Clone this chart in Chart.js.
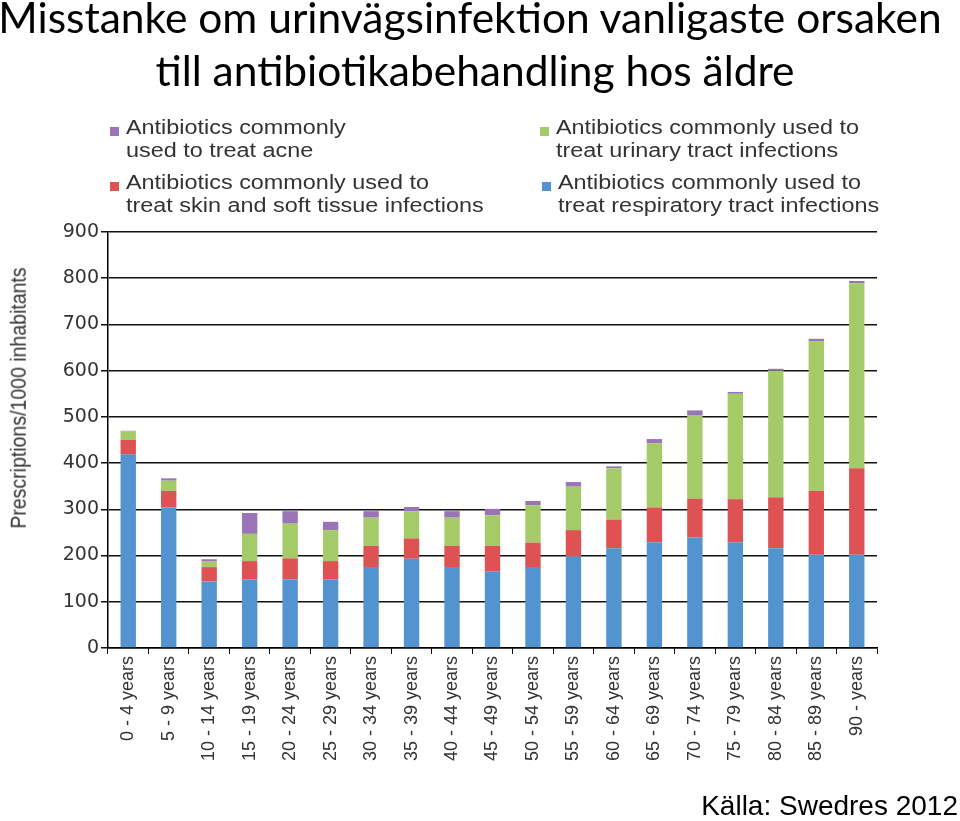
<!DOCTYPE html>
<html>
<head>
<meta charset="utf-8">
<script src="https://cdn.jsdelivr.net/npm/chart.js@4.4.1/dist/chart.umd.min.js"></script>
<style>
    html, body { margin: 0; padding: 0; background: #fff; }
    #wrap { position: relative; width: 960px; height: 821px; overflow: hidden; }
    #chart { position: absolute; left: 0; top: 0; }
    .title {
        position: absolute; text-align: center;
        font-family: Lato, sans-serif; font-size: 42.5px; color: #000; line-height: 1;
        white-space: nowrap; transform: translateX(-50%);
    }
    .leg { position: absolute; font-family: 'Liberation Sans', Arial, sans-serif;
        font-size: 19.5px; color: #333; line-height: 23px; white-space: nowrap;
        transform: scaleX(1.2); transform-origin: 0 0; }
    .mark { position: absolute; width: 9px; height: 9px; }
    #ytitle { position: absolute; left: 18px; top: 398px; font-family: 'Liberation Sans', Arial, sans-serif;
        font-size: 19.5px; color: #333; white-space: nowrap;
        transform: translate(-50%, -50%) rotate(-90deg) scaleY(1.15); }
    #source { position: absolute; right: 2px; top: 790px; font-family: 'Liberation Sans', Arial, sans-serif;
        font-size: 28px; color: #000; white-space: nowrap; }
</style>
</head>
<body>
<div id="wrap">
    <canvas id="chart" width="960" height="821"></canvas>
    <div class="title" style="left:470px; top:-4px">Misstanke om urinvägsinfektion vanligaste orsaken</div>
    <div class="title" style="left:475px; top:49px">till antibiotikabehandling hos äldre</div>
    <div id="legend"></div>
    <div id="ytitle">Prescriptions/1000 inhabitants</div>
    <div id="source">Källa: Swedres 2012</div>
</div>
<script>
// ─── Data ─────────────────────────────────────────────────────────────────────
const AGE_GROUPS = [
    '0 - 4 years', '5 - 9 years', '10 - 14 years', '15 - 19 years', '20 - 24 years',
    '25 - 29 years', '30 - 34 years', '35 - 39 years', '40 - 44 years', '45 - 49 years',
    '50 - 54 years', '55 - 59 years', '60 - 64 years', '65 - 69 years', '70 - 74 years',
    '75 - 79 years', '80 - 84 years', '85 - 89 years', '90 - years'
];
const RESPIRATORY = [419, 304, 144, 149, 149, 149, 175, 193, 175, 166, 175, 198, 216, 229, 239, 229, 216, 202, 202];
const SKIN        = [ 31,  36,  31,  39,  45,  39,  46,  44,  46,  55,  53,  57,  62,  75,  84,  93, 110, 138, 187];
const URINARY     = [ 19,  22,  12,  59,  75,  67,  61,  59,  61,  66,  81,  94, 111, 139, 181, 228, 274, 324, 400];
const ACNE        = [  1,   5,   5,  45,  27,  18,  14,   9,  14,  14,   9,  10,   4,   9,  10,   4,   4,   5,   5];
const Y_TICKS     = [0, 100, 200, 300, 400, 500, 600, 700, 800, 900];

// ─── Colours ──────────────────────────────────────────────────────────────────
const BLUE   = '#5393d0';
const RED    = '#df5254';
const GREEN  = '#a5cb68';
const PURPLE = '#9a74b6';

// ─── Legend (HTML) ────────────────────────────────────────────────────────────
const LEGEND = [
    { color: PURPLE, x: 110, y: 116, lines: ['Antibiotics commonly', 'used to treat acne'] },
    { color: RED,    x: 110, y: 171, lines: ['Antibiotics commonly used to', 'treat skin and soft tissue infections'] },
    { color: GREEN,  x: 540, y: 116, lines: ['Antibiotics commonly used to', 'treat urinary tract infections'] },
    { color: BLUE,   x: 542, y: 171, lines: ['Antibiotics commonly used to', 'treat respiratory tract infections'] }
];
const legendEl = document.getElementById('legend');
LEGEND.forEach(item => {
    const m = document.createElement('div');
    m.className = 'mark';
    m.style.left = item.x + 'px';
    m.style.top = (item.y + 11) + 'px';
    m.style.background = item.color;
    legendEl.appendChild(m);
    const t = document.createElement('div');
    t.className = 'leg';
    t.style.left = (item.x + 16) + 'px';
    t.style.top = item.y + 'px';
    t.innerHTML = item.lines.join('<br>');
    legendEl.appendChild(t);
});

// ─── Chart ────────────────────────────────────────────────────────────────────
const FONT = "'Liberation Sans', Arial, sans-serif";
const mkSet = (label, data, color) => ({
    label, data, backgroundColor: color, borderWidth: 0,
    barPercentage: 0.38, categoryPercentage: 1
});

new Chart(document.getElementById('chart'), {
    type: 'bar',
    data: {
        labels: AGE_GROUPS,
        datasets: [
            mkSet('Respiratory tract infections', RESPIRATORY, BLUE),
            mkSet('Skin and soft tissue infections', SKIN, RED),
            mkSet('Urinary tract infections', URINARY, GREEN),
            mkSet('Acne', ACNE, PURPLE)
        ]
    },
    options: {
        responsive: false,
        animation: false,
        layout: { padding: { left: 0, right: 83, top: 232, bottom: 0 } },
        plugins: { legend: { display: false }, tooltip: { enabled: false } },
        scales: {
            x: {
                stacked: true,
                afterFit: s => { s.height = 173; },
                grid: { drawOnChartArea: false, drawTicks: true, tickLength: 6, color: '#000', lineWidth: 1 },
                border: { color: '#000', width: 1.5 },
                ticks: { minRotation: 90, maxRotation: 90, autoSkip: false, padding: 2,
                    font: { family: FONT, size: 18 }, color: '#333' }
            },
            y: {
                stacked: true,
                min: 0, max: 900,
                afterBuildTicks: s => { s.ticks = Y_TICKS.map(v => ({ value: v })); },
                afterFit: s => { s.width = 108; },
                grid: { color: '#111', lineWidth: 1.5, tickLength: 7 },
                border: { color: '#000', width: 1.5 },
                ticks: { padding: 2, font: { family: "'DejaVu Sans', sans-serif", size: 19 }, color: '#333' }
            }
        }
    }
});
</script>
</body>
</html>
